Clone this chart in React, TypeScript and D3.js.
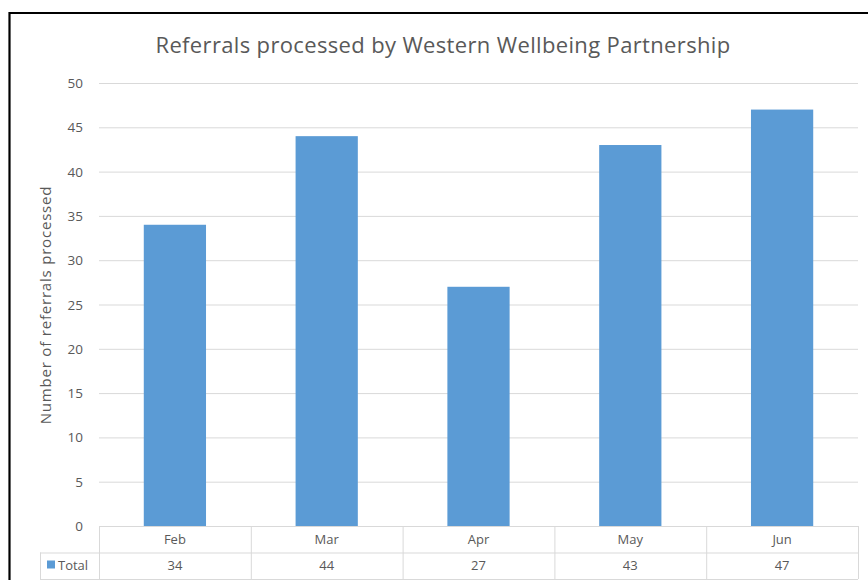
import React from "react";
import * as d3 from "d3";

const months = ["Feb", "Mar", "Apr", "May", "Jun"];
const totals = [34, 44, 27, 43, 47];
const yTicks = [0, 5, 10, 15, 20, 25, 30, 35, 40, 45, 50];

const W = 868;
const H = 580;
const FONT = "'Open Sans', 'Noto Sans', sans-serif";
const GREY = "#595959";
const BLUE = "#5b9bd5";
const GRID = "#d9d9d9";

export default function App() {
  // plot area
  const left = 99;
  const right = 858;
  const top = 83;
  const bottom = 526;
  const rowH = 26.5;

  const x = d3.scaleBand<string>().domain(months).range([left, right]).paddingInner(0.59).paddingOuter(0.295);
  const xCol = d3.scaleBand<string>().domain(months).range([left, right]);
  const y = d3.scaleLinear().domain([0, 50]).range([bottom, top]);

  const colEdges = months.map((m) => xCol(m)!).concat([right]);

  return (
    <svg
      width={W}
      height={H}
      style={{ position: "absolute", left: 0, top: 0, background: "#fff" }}
      fontFamily={FONT}
    >
      {/* outer frame, cut by the window edges */}
      <path d={`M9.5,${H + 5} V13 H${W + 5}`} fill="none" stroke="#000" strokeWidth={2.2} />

      <text x={443} y={53} textAnchor="middle" fontSize={22} letterSpacing={0.35} fill={GREY}>
        Referrals processed by Western Wellbeing Partnership
      </text>

      {/* gridlines + tick labels */}
      {yTicks.map((t) => (
        <g key={t}>
          {t > 0 && (
            <line x1={left} x2={right} y1={y(t) + 0.5} y2={y(t) + 0.5} stroke={GRID} strokeWidth={1} />
          )}
          <text x={83} y={y(t) + 5} textAnchor="end" fontSize={13.5} fill={GREY}>
            {t}
          </text>
        </g>
      ))}

      <text
        transform={`translate(51,305) rotate(-90)`}
        textAnchor="middle"
        fontSize={15}
        letterSpacing={0.8}
        fill={GREY}
      >
        Number of referrals processed
      </text>

      {/* bars */}
      {months.map((m, i) => (
        <rect
          key={m}
          x={x(m)}
          y={y(totals[i])}
          width={x.bandwidth()}
          height={bottom - y(totals[i])}
          fill={BLUE}
        />
      ))}

      {/* data table */}
      <g stroke={GRID} strokeWidth={1} fill="none">
        <line x1={left} x2={right} y1={bottom + 0.5} y2={bottom + 0.5} />
        <line x1={40} x2={right} y1={bottom + rowH + 0.5} y2={bottom + rowH + 0.5} />
        <line x1={40} x2={right} y1={bottom + 2 * rowH + 0.5} y2={bottom + 2 * rowH + 0.5} />
        <line x1={40.5} x2={40.5} y1={bottom + rowH} y2={bottom + 2 * rowH} />
        {colEdges.map((cx, i) => (
          <line key={i} x1={cx + 0.5} x2={cx + 0.5} y1={bottom} y2={bottom + 2 * rowH} />
        ))}
      </g>
      {months.map((m, i) => (
        <g key={m}>
          <text
            x={xCol(m)! + xCol.bandwidth() / 2}
            y={bottom + 17.5}
            textAnchor="middle"
            fontSize={13}
            fill={GREY}
          >
            {m}
          </text>
          <text
            x={xCol(m)! + xCol.bandwidth() / 2}
            y={bottom + rowH + 17.5}
            textAnchor="middle"
            fontSize={13}
            fill={GREY}
          >
            {totals[i]}
          </text>
        </g>
      ))}
      <rect x={47} y={bottom + rowH + 8} width={8} height={8} fill={BLUE} />
      <text x={58} y={bottom + rowH + 17} fontSize={13} fill={GREY}>
        Total
      </text>
    </svg>
  );
}
